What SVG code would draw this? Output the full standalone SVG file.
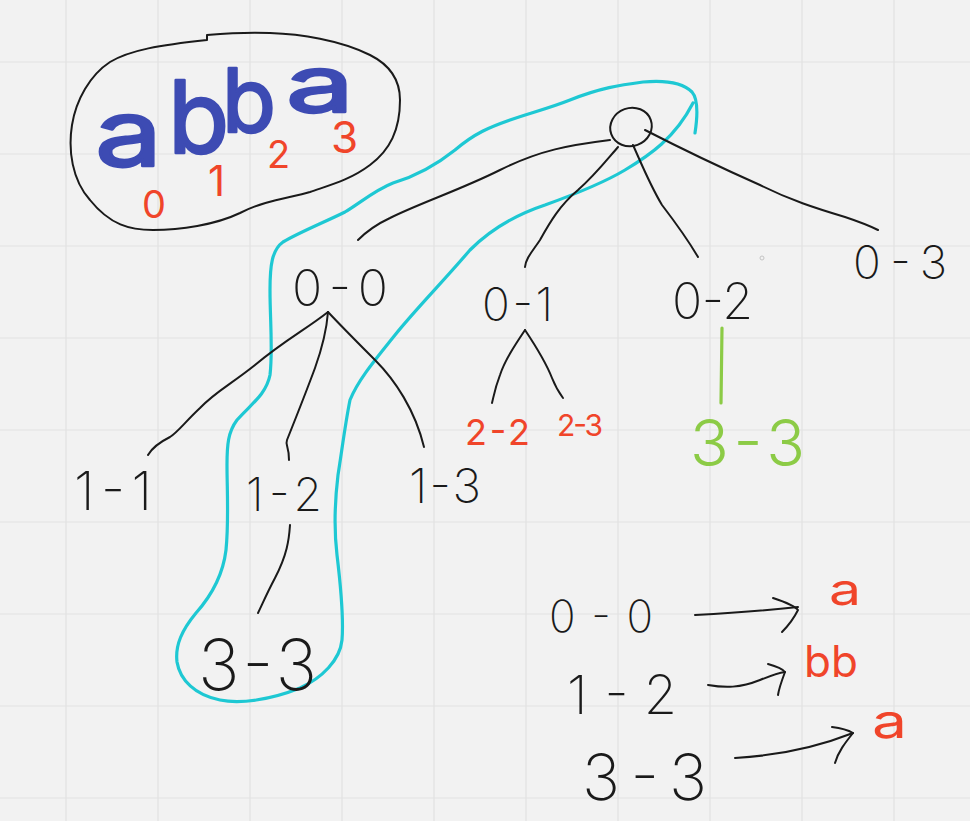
<svg xmlns="http://www.w3.org/2000/svg" width="970" height="821" viewBox="0 0 970 821">
<style>
.grid line{stroke:#e1e1e1;stroke-width:1.2}
.ink{fill:none;stroke:#1a1a1a;stroke-width:2;stroke-linecap:round;stroke-linejoin:round}
.cyan{fill:none;stroke:#1ec8d3;stroke-width:3.2;stroke-linecap:round;stroke-linejoin:round}
.green{fill:none;stroke:#8ccb46;stroke-width:3.2;stroke-linecap:round}
.t{font-family:Inter,"Noto Sans","DejaVu Sans",sans-serif;font-weight:200;fill:#1a1a1a}
.r{font-family:Inter,"Noto Sans","DejaVu Sans",sans-serif;font-weight:400;fill:#f0452a}
.g{font-family:Inter,"Noto Sans","DejaVu Sans",sans-serif;font-weight:300;fill:#8ccb46}
.b{font-family:Inter,"Noto Sans","DejaVu Sans",sans-serif;font-weight:400;fill:#3d4bb3;stroke:#3d4bb3;stroke-width:2.5;stroke-linejoin:round}
</style>
<rect width="970" height="821" fill="#f2f2f2"/>
<g class="grid">
<line x1="66" y1="0" x2="66" y2="821"/><line x1="158" y1="0" x2="158" y2="821"/><line x1="250" y1="0" x2="250" y2="821"/><line x1="342" y1="0" x2="342" y2="821"/><line x1="434" y1="0" x2="434" y2="821"/><line x1="526" y1="0" x2="526" y2="821"/><line x1="618" y1="0" x2="618" y2="821"/><line x1="710" y1="0" x2="710" y2="821"/><line x1="802" y1="0" x2="802" y2="821"/><line x1="894" y1="0" x2="894" y2="821"/>
<line x1="0" y1="62" x2="970" y2="62"/><line x1="0" y1="154" x2="970" y2="154"/><line x1="0" y1="246" x2="970" y2="246"/><line x1="0" y1="338" x2="970" y2="338"/><line x1="0" y1="430" x2="970" y2="430"/><line x1="0" y1="522" x2="970" y2="522"/><line x1="0" y1="614" x2="970" y2="614"/><line x1="0" y1="706" x2="970" y2="706"/><line x1="0" y1="798" x2="970" y2="798"/>
</g>

<g id="word">
<path class="ink" d="M207,40 L207,35 C230,33 250,32 270,33 C300,34 340,40 370,55 C390,65 400,80 400,100 C400,130 390,150 370,165 C350,180 330,185 310,192 C290,198 265,200 240,213 C215,225 180,230 153,230 C130,230 110,225 90,200 C72,180 68,150 72,125 C76,100 90,75 110,62 C130,50 160,45 207,40 Z"/>
<text class="b" font-size="92" transform="translate(95 166) scale(1.3 1)">a</text>
<text class="b" font-size="100" transform="translate(168 153)">b</text>
<text class="b" font-size="88" transform="translate(222 132)">b</text>
<text class="b" font-size="78" transform="translate(286 112) scale(1.55 1)">a</text>
<text class="r" x="142" y="218" font-size="38">0</text>
<text class="r" x="208" y="196" font-size="42">1</text>
<text class="r" x="267" y="168" font-size="38">2</text>
<text class="r" x="331" y="153" font-size="44">3</text>
</g>

<g id="highlight">
<path class="cyan" d="M695,133 C697,120 699,100 692,92 C682,82 665,80 643,82 C620,85 600,88 570,100 C550,108 530,113 510,120 C490,127 475,133 455,150 C440,162 420,175 393,183 C375,190 360,203 345,212 C325,222 300,232 283,242 C272,250 270,265 270,290 C270,320 273,350 270,375 C266,395 250,405 237,420 C228,432 227,445 227,465 C227,490 229,520 226,550 C223,575 212,595 196,613 C182,630 175,645 177,662 C180,680 195,695 220,700 C240,704 270,700 300,688 C322,678 340,660 342,640 C344,615 340,580 337,555 C334,530 335,500 338,475 C342,450 345,425 350,400 C358,380 375,360 395,335 C415,310 440,285 470,250 C490,230 515,215 545,205 C570,196 600,185 625,170 C650,155 675,138 693,103"/>
</g>

<g id="connectors">
<path class="ink" d="M610,140 C570,145 540,150 500,170 C460,190 420,203 390,218 C375,225 365,233 358,240"/>
<path class="ink" d="M618,147 C605,162 595,175 578,190 C560,205 550,222 540,240 C532,252 526,258 525,267"/>
<path class="ink" d="M633,145 C642,165 650,185 662,205 C675,222 688,240 698,257"/>
<path class="ink" d="M645,130 C680,148 715,165 760,185 C790,200 815,208 845,217 C860,222 870,226 878,230"/>
<path class="ink" d="M525,330 C515,345 505,360 500,375 C495,388 494,395 492,403"/>
<path class="ink" d="M525,330 C535,345 545,360 552,378 C556,388 560,394 563,398"/>
<path class="green" d="M722,328 L721,403"/>
<path class="ink" d="M328,312 C305,330 285,340 255,365 C230,385 215,392 200,408 C185,422 178,432 170,437 C160,442 152,448 148,455"/>
<path class="ink" d="M328,312 C327,325 325,340 315,368 C305,395 295,420 287,440 C285,445 289,446 289,460"/>
<path class="ink" d="M328,312 C345,330 360,345 375,360 C395,380 415,410 424,447"/>
<path class="ink" d="M290,525 C289,540 287,555 275,578 C266,595 262,605 258,613"/>
<path class="ink" d="M695,615 C730,613 770,610 798,607"/>
<path class="ink" d="M773,598 C785,602 795,606 798,610 C794,618 788,626 782,632"/>
<path class="ink" d="M708,685 C725,688 740,688 760,680 C770,676 778,673 785,672"/>
<path class="ink" d="M768,664 C775,666 782,668 785,672 C782,680 779,688 778,695"/>
<path class="ink" d="M735,758 C770,756 810,750 853,733"/>
<path class="ink" d="M832,727 C840,728 848,730 853,733 C845,743 838,752 835,763"/>
</g>

<g id="root"><ellipse class="ink" cx="631" cy="127" rx="21" ry="19" transform="rotate(-20 631 127)"/></g>
<g id="n00"><text class="t" x="292" y="306" font-size="50" textLength="96" lengthAdjust="spacing">0-0</text></g>
<g id="n01"><text class="t" x="482" y="321" font-size="46" textLength="71" lengthAdjust="spacing">0-1</text></g>
<g id="n02"><text class="t" x="672" y="319" font-size="50" textLength="81" lengthAdjust="spacing">0-2</text></g>
<g id="n03"><text class="t" x="853" y="279" font-size="46" textLength="94" lengthAdjust="spacing">0-3</text></g>
<g id="dot"><circle cx="762" cy="258" r="2" fill="none" stroke="#c4c4c4" stroke-width="1"/></g>
<g id="n22"><text class="r" x="465" y="445" font-size="36" textLength="65" lengthAdjust="spacing">2-2</text></g>
<g id="n23"><text class="r" x="557" y="436" font-size="30" textLength="46" lengthAdjust="spacing">2-3</text></g>
<g id="n33g"><text class="g" x="690" y="466" font-size="64" textLength="115" lengthAdjust="spacing">3-3</text></g>
<g id="n11"><text class="t" x="74" y="510" font-size="54" textLength="78" lengthAdjust="spacing">1-1</text></g>
<g id="n12"><text class="t" x="246" y="511" font-size="46" textLength="76" lengthAdjust="spacing">1-2</text></g>
<g id="n13"><text class="t" x="409" y="503" font-size="48" textLength="72" lengthAdjust="spacing">1-3</text></g>
<g id="n33"><text class="t" x="198" y="690" font-size="70" textLength="119" lengthAdjust="spacing">3-3</text></g>

<g id="legend">
<text class="t" x="549" y="632" font-size="44" textLength="104" lengthAdjust="spacing">0-0</text>
<text class="t" x="567" y="714" font-size="54" textLength="110" lengthAdjust="spacing">1-2</text>
<text class="t" x="582" y="800" font-size="64" textLength="125" lengthAdjust="spacing">3-3</text>
<text class="r" font-size="44" transform="translate(829 605) scale(1.3 1)">a</text>
<text class="r" x="804" y="677" font-size="44" textLength="54" lengthAdjust="spacing">bb</text>
<text class="r" font-size="48" transform="translate(872 738) scale(1.3 1)">a</text>
</g>
</svg>
